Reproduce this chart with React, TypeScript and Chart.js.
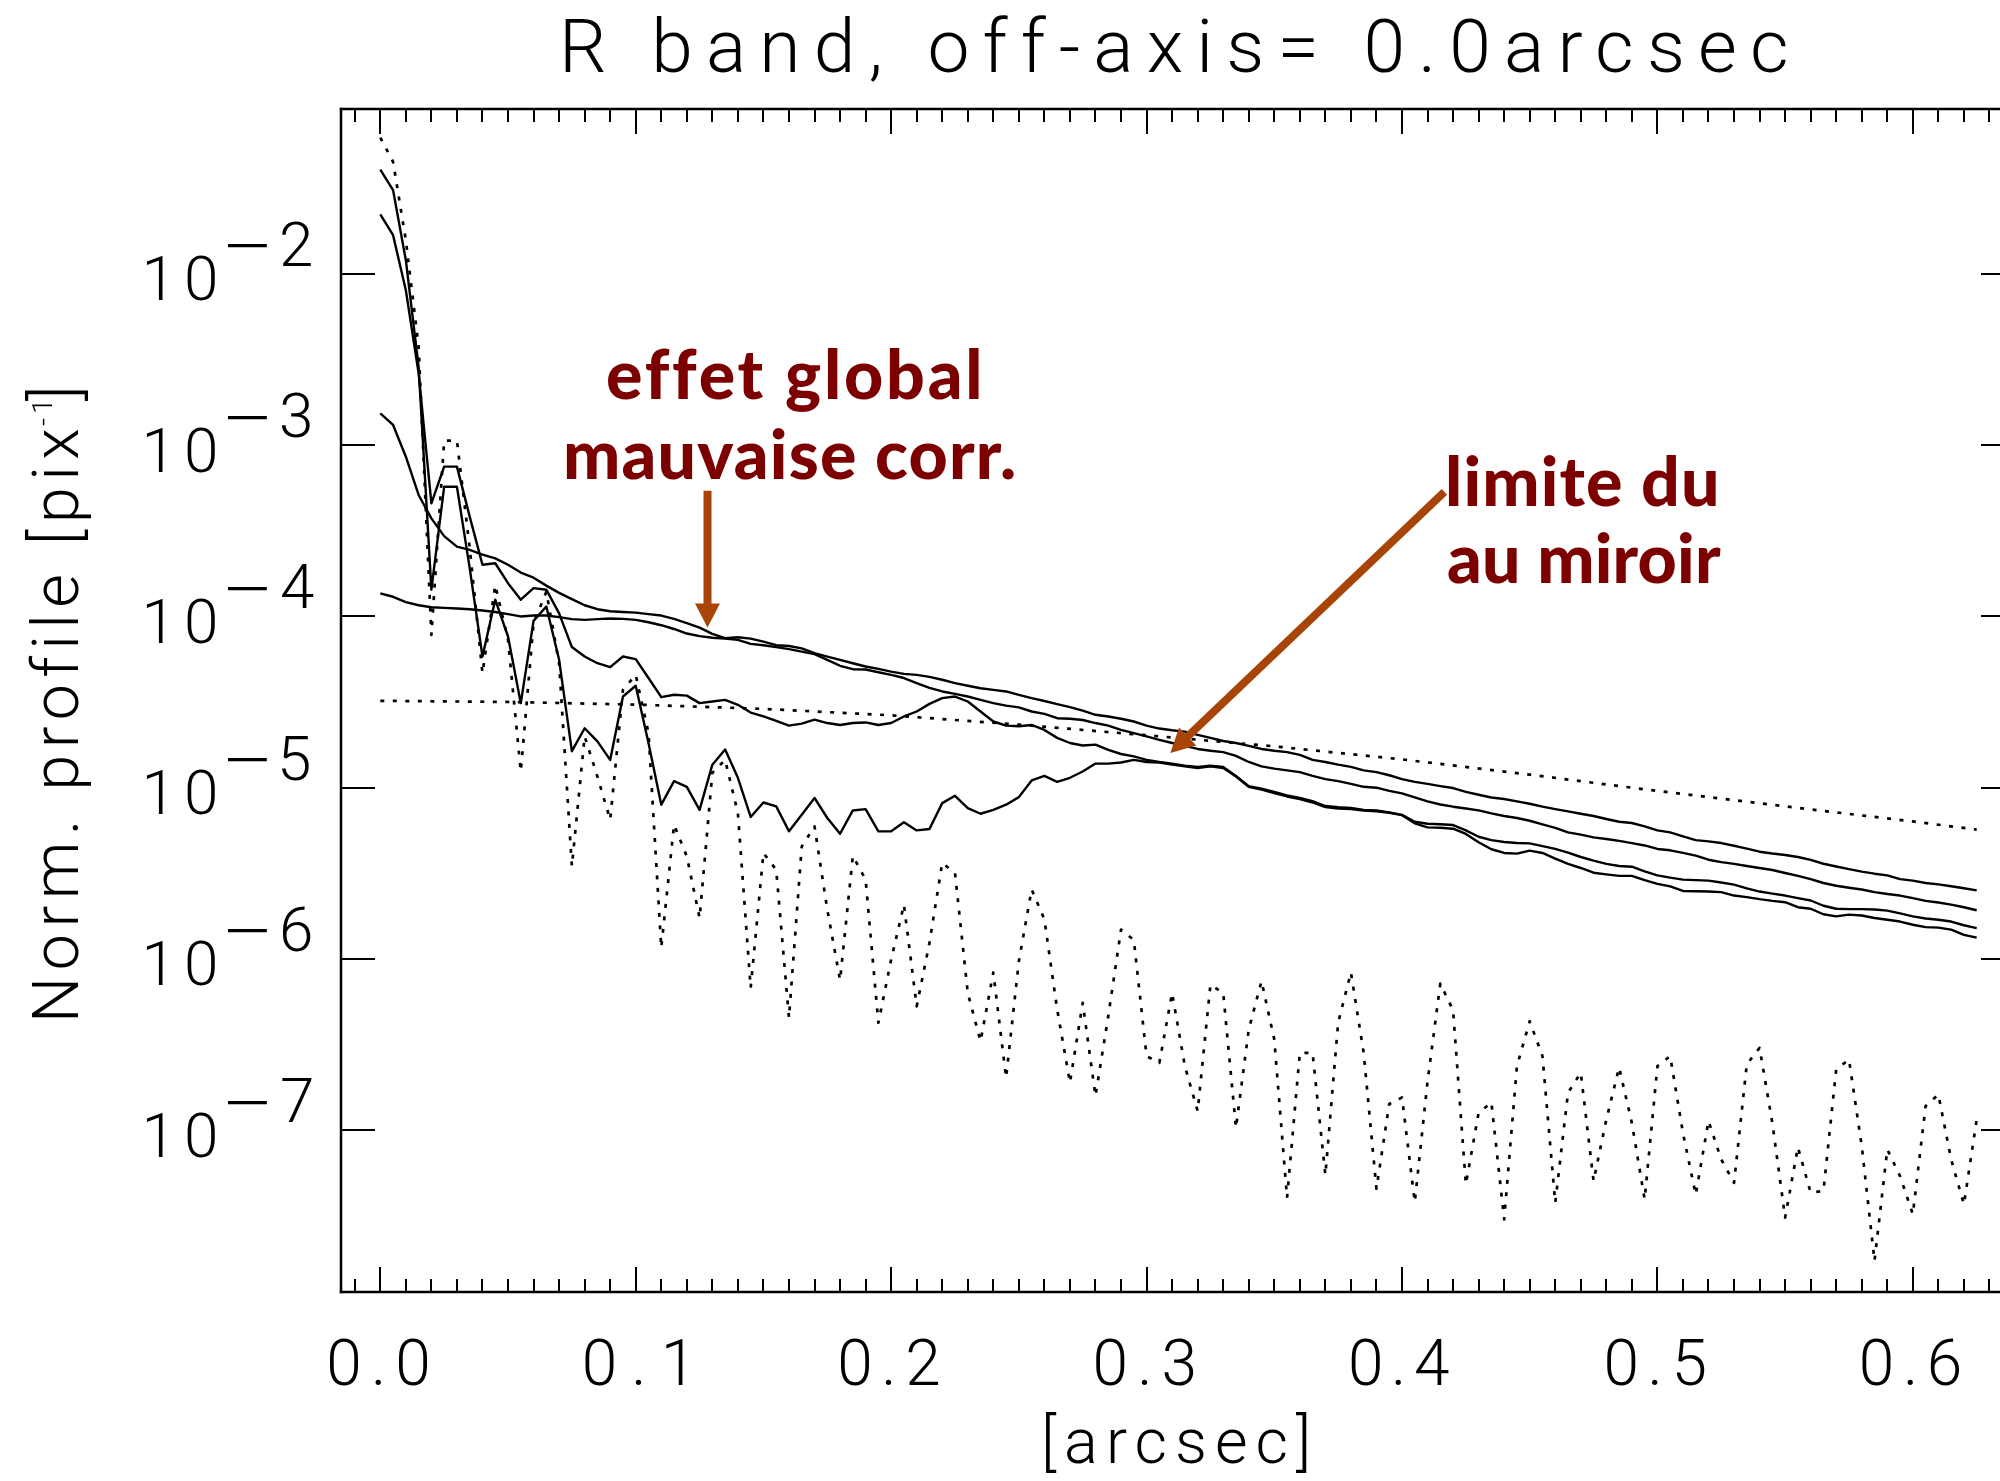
import React, { useEffect, useRef } from "react";
import { Chart, registerables } from "chart.js";

Chart.register(...registerables);

// ---- sample radii [arcsec] ----
const radius = [
  0, 0.005, 0.01, 0.015, 0.02, 0.025, 0.03, 0.035, 0.04, 0.045,
  0.05, 0.055, 0.06, 0.065, 0.07, 0.075, 0.08, 0.085, 0.09, 0.095,
  0.1, 0.105, 0.11, 0.115, 0.12, 0.125, 0.13, 0.135, 0.14, 0.145,
  0.15, 0.155, 0.16, 0.165, 0.17, 0.175, 0.18, 0.185, 0.19, 0.195,
  0.2, 0.205, 0.21, 0.215, 0.22, 0.225, 0.23, 0.235, 0.24, 0.245,
  0.25, 0.255, 0.26, 0.265, 0.27, 0.275, 0.28, 0.285, 0.29, 0.295,
  0.3, 0.305, 0.31, 0.315, 0.32, 0.325, 0.33, 0.335, 0.34, 0.345,
  0.35, 0.355, 0.36, 0.365, 0.37, 0.375, 0.38, 0.385, 0.39, 0.395,
  0.4, 0.405, 0.41, 0.415, 0.42, 0.425, 0.43, 0.435, 0.44, 0.445,
  0.45, 0.455, 0.46, 0.465, 0.47, 0.475, 0.48, 0.485, 0.49, 0.495,
  0.5, 0.505, 0.51, 0.515, 0.52, 0.525, 0.53, 0.535, 0.54, 0.545,
  0.55, 0.555, 0.56, 0.565, 0.57, 0.575, 0.58, 0.585, 0.59, 0.595,
  0.6, 0.605, 0.61, 0.615, 0.62, 0.625,
];

// dotted: diffraction-limited profile
const psfDiffraction = [
  6.24e-2, 4.5e-2, 1.57e-2, 3.75e-3, 7.78e-5, 1.06e-3, 1.06e-3, 2.51e-4, 4.66e-5, 1.52e-4,
  7.28e-5, 1.24e-5, 9.12e-5, 1.39e-4, 5.32e-5, 3.47e-6, 1.99e-5, 1.16e-5, 6.49e-6, 3.72e-5,
  4.55e-5, 2.08e-5, 1.16e-6, 6.07e-6, 3.96e-6, 1.73e-6, 1.22e-5, 1.45e-5, 7.1e-6, 6.76e-7,
  4.15e-6, 3.31e-6, 4.52e-7, 4.53e-6, 5.93e-6, 1.94e-6, 7.5e-7, 3.98e-6, 2.9e-6, 4.23e-7,
  9.89e-7, 2.07e-6, 5.28e-7, 1.24e-6, 3.63e-6, 3.17e-6, 6.31e-7, 3.3e-7, 8.32e-7, 2.02e-7,
  9.68e-7, 2.54e-6, 1.7e-6, 5.06e-7, 1.89e-7, 5.53e-7, 1.58e-7, 4.62e-7, 1.48e-6, 1.29e-6,
  2.7e-7, 2.47e-7, 6.31e-7, 2.36e-7, 1.29e-7, 7.06e-7, 6.31e-7, 1.03e-7, 3.86e-7, 7.4e-7,
  3.38e-7, 4.02e-8, 2.82e-7, 2.82e-7, 5.46e-8, 4.23e-7, 8.32e-7, 2.82e-7, 4.54e-8, 1.42e-7,
  1.55e-7, 3.8e-8, 1.92e-7, 7.16e-7, 5.01e-7, 4.83e-8, 1.26e-7, 1.45e-7, 3.01e-8, 2.36e-7,
  4.32e-7, 2.7e-7, 3.76e-8, 1.65e-7, 2.16e-7, 5.04e-8, 1.15e-7, 2.32e-7, 1.1e-7, 3.94e-8,
  2.36e-7, 2.7e-7, 9.62e-8, 4.19e-8, 1.13e-7, 6.73e-8, 4.92e-8, 2.42e-7, 3.02e-7, 1.1e-7,
  3.08e-8, 7.94e-8, 4.31e-8, 4.41e-8, 2.26e-7, 2.58e-7, 8.07e-8, 1.72e-8, 7.71e-8, 5.38e-8,
  3.22e-8, 1.38e-7, 1.61e-7, 6.73e-8, 3.68e-8, 1.15e-7,
];

// solid: corrected profiles
const psfCorrA = [
  4.06e-2, 3.08e-2, 1.2e-2, 2.86e-3, 1.43e-4, 5.71e-4, 5.71e-4, 1.91e-4, 5.82e-5, 1.25e-4,
  7.62e-5, 3.11e-5, 9.4e-5, 1.14e-4, 5.57e-5, 1.63e-5, 2.22e-5, 1.86e-5, 1.45e-5, 3.4e-5,
  3.93e-5, 1.82e-5, 7.94e-6, 1.09e-5, 1.01e-5, 7.41e-6, 1.36e-5, 1.67e-5, 1.14e-5, 6.73e-6,
  8.18e-6, 7.76e-6, 5.55e-6, 6.93e-6, 8.69e-6, 6.64e-6, 5.37e-6, 7.35e-6, 7.48e-6, 5.55e-6,
  5.55e-6, 6.27e-6, 5.62e-6, 5.73e-6, 8.11e-6, 8.95e-6, 7.59e-6, 7.03e-6, 7.41e-6, 7.94e-6,
  8.79e-6, 1.1e-5, 1.17e-5, 1.08e-5, 1.14e-5, 1.24e-5, 1.38e-5, 1.38e-5, 1.4e-5, 1.45e-5,
  1.41e-5, 1.4e-5, 1.36e-5, 1.33e-5, 1.3e-5, 1.33e-5, 1.3e-5, 1.16e-5, 1.01e-5, 9.72e-6,
  9.29e-6, 8.87e-6, 8.57e-6, 8.18e-6, 7.69e-6, 7.55e-6, 7.48e-6, 7.35e-6, 7.26e-6, 7.13e-6,
  6.9e-6, 6.18e-6, 5.85e-6, 5.82e-6, 5.75e-6, 5.36e-6, 4.79e-6, 4.36e-6, 4.15e-6, 4.11e-6,
  4.28e-6, 4.15e-6, 3.85e-6, 3.58e-6, 3.39e-6, 3.18e-6, 3.11e-6, 3.05e-6, 3.05e-6, 2.88e-6,
  2.74e-6, 2.65e-6, 2.49e-6, 2.48e-6, 2.47e-6, 2.45e-6, 2.34e-6, 2.29e-6, 2.23e-6, 2.18e-6,
  2.14e-6, 2.0e-6, 1.96e-6, 1.82e-6, 1.77e-6, 1.81e-6, 1.79e-6, 1.73e-6, 1.69e-6, 1.65e-6,
  1.58e-6, 1.53e-6, 1.52e-6, 1.48e-6, 1.38e-6, 1.33e-6,
];

const psfCorrB = [
  2.22e-2, 1.68e-2, 8.02e-3, 2.62e-3, 4.57e-4, 7.48e-4, 7.48e-4, 3.82e-4, 2.0e-4, 2.04e-4,
  1.56e-4, 1.25e-4, 1.46e-4, 1.43e-4, 1.04e-4, 6.61e-5, 5.82e-5, 5.32e-5, 5.05e-5, 5.82e-5,
  5.62e-5, 4.36e-5, 3.37e-5, 3.48e-5, 3.44e-5, 3.11e-5, 3.18e-5, 3.25e-5, 3.04e-5, 2.74e-5,
  2.6e-5, 2.45e-5, 2.3e-5, 2.36e-5, 2.49e-5, 2.38e-5, 2.32e-5, 2.38e-5, 2.4e-5, 2.32e-5,
  2.38e-5, 2.6e-5, 2.78e-5, 3.08e-5, 3.33e-5, 3.4e-5, 3.18e-5, 2.78e-5, 2.43e-5, 2.3e-5,
  2.28e-5, 2.32e-5, 2.17e-5, 1.95e-5, 1.82e-5, 1.76e-5, 1.78e-5, 1.66e-5, 1.57e-5, 1.52e-5,
  1.45e-5, 1.41e-5, 1.38e-5, 1.34e-5, 1.32e-5, 1.34e-5, 1.32e-5, 1.17e-5, 1.02e-5, 9.86e-6,
  9.42e-6, 9.0e-6, 8.71e-6, 8.32e-6, 7.8e-6, 7.67e-6, 7.59e-6, 7.41e-6, 7.35e-6, 7.16e-6,
  6.93e-6, 6.31e-6, 6.15e-6, 6.1e-6, 6.04e-6, 5.62e-6, 5.16e-6, 4.93e-6, 4.81e-6, 4.74e-6,
  4.72e-6, 4.55e-6, 4.38e-6, 4.17e-6, 3.93e-6, 3.74e-6, 3.58e-6, 3.48e-6, 3.45e-6, 3.24e-6,
  3.07e-6, 2.98e-6, 2.9e-6, 2.88e-6, 2.86e-6, 2.79e-6, 2.71e-6, 2.58e-6, 2.47e-6, 2.4e-6,
  2.34e-6, 2.26e-6, 2.19e-6, 2.04e-6, 1.96e-6, 1.95e-6, 1.95e-6, 1.94e-6, 1.91e-6, 1.84e-6,
  1.77e-6, 1.72e-6, 1.69e-6, 1.65e-6, 1.57e-6, 1.51e-6,
];

const psfCorrC = [
  1.53e-3, 1.31e-3, 8.55e-4, 5.11e-4, 3.73e-4, 2.94e-4, 2.55e-4, 2.44e-4, 2.29e-4, 2.18e-4,
  2.0e-4, 1.8e-4, 1.68e-4, 1.51e-4, 1.37e-4, 1.26e-4, 1.16e-4, 1.1e-4, 1.07e-4, 1.06e-4,
  1.05e-4, 1.03e-4, 1.01e-4, 9.66e-5, 9.12e-5, 8.59e-5, 7.89e-5, 7.45e-5, 7.55e-5, 7.41e-5,
  7.11e-5, 6.78e-5, 6.71e-5, 6.49e-5, 6.1e-5, 5.82e-5, 5.57e-5, 5.32e-5, 5.09e-5, 4.93e-5,
  4.75e-5, 4.61e-5, 4.55e-5, 4.43e-5, 4.26e-5, 4.07e-5, 3.93e-5, 3.8e-5, 3.72e-5, 3.64e-5,
  3.48e-5, 3.33e-5, 3.2e-5, 3.07e-5, 2.95e-5, 2.81e-5, 2.66e-5, 2.6e-5, 2.52e-5, 2.43e-5,
  2.3e-5, 2.21e-5, 2.16e-5, 2.12e-5, 2.03e-5, 1.95e-5, 1.87e-5, 1.82e-5, 1.75e-5, 1.68e-5,
  1.64e-5, 1.61e-5, 1.55e-5, 1.45e-5, 1.41e-5, 1.36e-5, 1.32e-5, 1.26e-5, 1.23e-5, 1.18e-5,
  1.12e-5, 1.08e-5, 1.05e-5, 1.02e-5, 9.93e-6, 9.44e-6, 9.08e-6, 8.75e-6, 8.57e-6, 8.3e-6,
  8.04e-6, 7.73e-6, 7.48e-6, 7.26e-6, 7.03e-6, 6.82e-6, 6.55e-6, 6.31e-6, 6.21e-6, 5.93e-6,
  5.62e-6, 5.47e-6, 5.19e-6, 4.93e-6, 4.85e-6, 4.74e-6, 4.57e-6, 4.4e-6, 4.22e-6, 4.12e-6,
  4.04e-6, 3.93e-6, 3.78e-6, 3.59e-6, 3.46e-6, 3.34e-6, 3.23e-6, 3.14e-6, 3.07e-6, 2.92e-6,
  2.86e-6, 2.77e-6, 2.72e-6, 2.65e-6, 2.58e-6, 2.51e-6,
];

const psfCorrD = [
  1.36e-4, 1.3e-4, 1.21e-4, 1.16e-4, 1.13e-4, 1.12e-4, 1.11e-4, 1.1e-4, 1.08e-4, 1.06e-4,
  1.03e-4, 9.98e-5, 1.01e-4, 1.01e-4, 9.89e-5, 9.62e-5, 9.53e-5, 9.62e-5, 9.7e-5, 9.66e-5,
  9.53e-5, 9.23e-5, 8.87e-5, 8.43e-5, 7.93e-5, 7.66e-5, 7.5e-5, 7.41e-5, 7.28e-5, 6.9e-5,
  6.78e-5, 6.61e-5, 6.43e-5, 6.22e-5, 6.01e-5, 5.57e-5, 5.14e-5, 4.91e-5, 4.89e-5, 4.71e-5,
  4.55e-5, 4.36e-5, 4.07e-5, 3.82e-5, 3.64e-5, 3.52e-5, 3.4e-5, 3.25e-5, 3.11e-5, 3.01e-5,
  2.94e-5, 2.78e-5, 2.69e-5, 2.54e-5, 2.52e-5, 2.48e-5, 2.38e-5, 2.3e-5, 2.17e-5, 2.08e-5,
  1.99e-5, 1.9e-5, 1.82e-5, 1.75e-5, 1.68e-5, 1.64e-5, 1.61e-5, 1.53e-5, 1.41e-5, 1.33e-5,
  1.29e-5, 1.26e-5, 1.23e-5, 1.17e-5, 1.12e-5, 1.09e-5, 1.05e-5, 1.01e-5, 9.98e-6, 9.57e-6,
  9.25e-6, 8.75e-6, 8.3e-6, 7.96e-6, 7.73e-6, 7.55e-6, 7.35e-6, 7.06e-6, 6.82e-6, 6.64e-6,
  6.4e-6, 6.1e-6, 5.81e-6, 5.47e-6, 5.31e-6, 5.12e-6, 5.01e-6, 4.88e-6, 4.74e-6, 4.59e-6,
  4.38e-6, 4.3e-6, 4.15e-6, 4.0e-6, 3.79e-6, 3.67e-6, 3.58e-6, 3.48e-6, 3.39e-6, 3.3e-6,
  3.17e-6, 3.05e-6, 2.92e-6, 2.77e-6, 2.67e-6, 2.6e-6, 2.54e-6, 2.45e-6, 2.39e-6, 2.34e-6,
  2.26e-6, 2.18e-6, 2.13e-6, 2.07e-6, 2.0e-6, 1.92e-6,
];

// dotted: mirror-limited halo
const mirrorRadius = [0, 0.05, 0.1, 0.15, 0.2, 0.25, 0.3, 0.35, 0.4, 0.45, 0.5, 0.55, 0.6, 0.625];
const mirrorLimit = [
  3.21e-5, 3.16e-5, 3.05e-5, 2.88e-5, 2.64e-5, 2.33e-5, 2.02e-5, 1.74e-5, 1.46e-5, 1.19e-5,
  9.55e-6, 7.76e-6, 6.34e-6, 5.68e-6,
];

// ---- axes / labels ----
const xTickValues = [0, 0.1, 0.2, 0.3, 0.4, 0.5, 0.6];
const xTickLabels = ["0.0", "0.1", "0.2", "0.3", "0.4", "0.5", "0.6"];
const xMinorStep = 0.01;
const yTickValues = [1e-2, 1e-3, 1e-4, 1e-5, 1e-6, 1e-7];
const yTickExponents = ["2", "3", "4", "5", "6", "7"];

const titleText = "R band, off-axis= 0.0arcsec";
const xTitle = "[arcsec]";
const yTitleMain = "Norm. profile [pix";
const yTitleSup = "-1";
const yTitleEnd = "]";
const noteGlobal = ["effet global", "mauvaise corr."];
const noteMirror = ["limite du", "au miroir"];

// arrows: [x, y] in data units, from -> to
const arrowGlobal = { from: [0.1281, 5.41e-4], to: [0.1281, 8.61e-5] };
const arrowMirror = { from: [0.4166, 5.32e-4], to: [0.3093, 1.59e-5] };

const THIN = "300";
const FONT = "Roboto, 'DejaVu Sans', sans-serif";
const NOTE_FONT = "900 68px Lato, 'DejaVu Sans', sans-serif";
const NOTE_COLOR = "#7c0000";
const ARROW_COLOR = "#a84408";
const TICK_COLOR = "#000000";

function fitText(ctx: CanvasRenderingContext2D, text: string, inkLeft: number, inkRight: number, baseline: number) {
  (ctx as any).letterSpacing = "0px";
  ctx.textAlign = "left";
  ctx.textBaseline = "alphabetic";
  const m = ctx.measureText(text);
  const ink = m.actualBoundingBoxLeft + m.actualBoundingBoxRight;
  const n = Array.from(text).length;
  const sp = n > 1 ? (inkRight - inkLeft - ink) / (n - 1) : 0;
  (ctx as any).letterSpacing = `${sp}px`;
  ctx.fillText(text, inkLeft + m.actualBoundingBoxLeft, baseline);
  (ctx as any).letterSpacing = "0px";
}

function drawArrow(ctx: CanvasRenderingContext2D, x1: number, y1: number, x2: number, y2: number) {
  const a = Math.atan2(y2 - y1, x2 - x1);
  const headLen = 24;
  const half = 12.5;
  const bx = x2 - headLen * Math.cos(a);
  const by = y2 - headLen * Math.sin(a);
  ctx.strokeStyle = ARROW_COLOR;
  ctx.fillStyle = ARROW_COLOR;
  ctx.lineWidth = 8;
  ctx.lineCap = "butt";
  ctx.setLineDash([]);
  ctx.beginPath();
  ctx.moveTo(x1, y1);
  ctx.lineTo(bx + Math.cos(a), by + Math.sin(a));
  ctx.stroke();
  ctx.beginPath();
  ctx.moveTo(x2, y2);
  ctx.lineTo(bx + half * Math.sin(a), by - half * Math.cos(a));
  ctx.lineTo(bx - half * Math.sin(a), by + half * Math.cos(a));
  ctx.closePath();
  ctx.fill();
}

const framePlugin = {
  id: "idlFrame",
  afterDraw(chart: any) {
    const ctx: CanvasRenderingContext2D = chart.ctx;
    const { left, right, top, bottom } = chart.chartArea;
    const xs = chart.scales.x;
    const ys = chart.scales.y;
    ctx.save();
    ctx.setLineDash([]);
    ctx.fillStyle = "#000";

    // box
    const bw = 2.5;
    ctx.fillRect(left - bw / 2, top - bw / 2, right - left + bw, bw);
    ctx.fillRect(left - bw / 2, bottom - bw / 2, right - left + bw, bw);
    ctx.fillRect(left - bw / 2, top - bw / 2, bw, bottom - top + bw);
    ctx.fillRect(right - bw / 2, top - bw / 2, bw, bottom - top + bw);

    // inward ticks: x majors each 0.1, minors each 0.01; y at decades
    ctx.fillStyle = TICK_COLOR;
    const tw = 2;
    for (let k = Math.ceil(xs.min / xMinorStep); k * xMinorStep < xs.max - 1e-9; k++) {
      const px = Math.round(xs.getPixelForValue(k * xMinorStep));
      const len = Math.abs(k % 10) === 0 ? 25 : 13;
      ctx.fillRect(px - tw / 2, bottom - len, tw, len);
      ctx.fillRect(px - tw / 2, top, tw, len);
    }
    for (const v of yTickValues) {
      const py = Math.round(ys.getPixelForValue(v));
      ctx.fillRect(left, py - tw / 2, 34, tw);
      ctx.fillRect(right - 34, py - tw / 2, 34, tw);
    }
    ctx.fillStyle = "#000";

    // x tick labels
    ctx.font = `${THIN} 64px ${FONT}`;
    xTickValues.forEach((v, i) => {
      const px = xs.getPixelForValue(v) - 2;
      fitText(ctx, xTickLabels[i], px - 49, px + 49, 1385);
    });

    // y tick labels 10^-n
    yTickValues.forEach((v, i) => {
      const py = ys.getPixelForValue(v);
      ctx.font = `${THIN} 62px ${FONT}`;
      fitText(ctx, "10", 146.5, 215, py + 26.5);
      const mm = ctx.measureText("\u2212");
      const mw = mm.actualBoundingBoxLeft + mm.actualBoundingBoxRight;
      const sx = 40 / Math.max(mw, 1);
      const mid = (mm.actualBoundingBoxAscent - mm.actualBoundingBoxDescent) / 2;
      ctx.save();
      ctx.translate(228, py - 27.5 + mid);
      ctx.scale(sx, 1);
      ctx.textAlign = "left";
      ctx.fillText("\u2212", mm.actualBoundingBoxLeft, 0);
      ctx.restore();
      fitText(ctx, yTickExponents[i], 282, 313, py - 8);
    });

    // title
    ctx.font = `${THIN} 75px ${FONT}`;
    fitText(ctx, titleText, 565, 1786, 72);

    // x title
    ctx.font = `${THIN} 63px ${FONT}`;
    fitText(ctx, xTitle, 1046, 1307, 1463);

    // y title (rotated)
    ctx.save();
    ctx.translate(78, 1018);
    ctx.rotate(-Math.PI / 2);
    ctx.font = `${THIN} 65px ${FONT}`;
    fitText(ctx, yTitleMain, 0, 588, 0);
    ctx.font = `${THIN} 28px ${FONT}`;
    fitText(ctx, yTitleSup, 592, 614, -26);
    ctx.font = `${THIN} 65px ${FONT}`;
    fitText(ctx, yTitleEnd, 617, 631, 0);
    ctx.restore();

    // annotations
    ctx.fillStyle = NOTE_COLOR;
    ctx.font = NOTE_FONT;
    fitText(ctx, noteGlobal[0], 608, 977, 399);
    fitText(ctx, noteGlobal[1], 566, 1014, 479);
    fitText(ctx, noteMirror[0], 1448, 1716, 506);
    fitText(ctx, noteMirror[1], 1448, 1721, 583);

    for (const ar of [arrowGlobal, arrowMirror]) {
      drawArrow(
        ctx,
        xs.getPixelForValue(ar.from[0]),
        ys.getPixelForValue(ar.from[1]),
        xs.getPixelForValue(ar.to[0]),
        ys.getPixelForValue(ar.to[1])
      );
    }
    ctx.restore();
  },
};

function series(xv: number[], yv: number[]) {
  return xv.map((x, i) => ({ x, y: yv[i] }));
}

export default function App() {
  const ref = useRef<HTMLCanvasElement | null>(null);
  useEffect(() => {
    if (!ref.current) return;
    const solid = { borderColor: "#000", borderWidth: 2.4, pointRadius: 0, borderJoinStyle: "round" as const, tension: 0 };
    const dotted = { ...solid, borderWidth: 2.7, borderDash: [4, 8.5] };
    const chart = new Chart(ref.current, {
      type: "line",
      data: {
        datasets: [
          { label: "diffraction", data: series(radius, psfDiffraction), ...dotted },
          { label: "mirror", data: series(mirrorRadius, mirrorLimit), ...dotted },
          { label: "A", data: series(radius, psfCorrA), ...solid },
          { label: "B", data: series(radius, psfCorrB), ...solid },
          { label: "C", data: series(radius, psfCorrC), ...solid },
          { label: "D", data: series(radius, psfCorrD), ...solid },
        ],
      },
      options: {
        animation: false,
        responsive: false,
        devicePixelRatio: 1,
        layout: { padding: { left: 341, top: 109, right: 25, bottom: 189 } },
        plugins: { legend: { display: false }, tooltip: { enabled: false }, title: { display: false } },
        scales: {
          x: { type: "linear", min: -0.01539, max: 0.64, display: false },
          y: { type: "logarithmic", min: 1.133e-8, max: 0.09168, display: false },
        },
      },
      plugins: [framePlugin],
    });
    return () => chart.destroy();
  }, []);
  return (
    <div style={{ position: "fixed", left: 0, top: 0, width: 2000, height: 1481, overflow: "hidden", background: "#fff" }}>
      <canvas ref={ref} width={2040} height={1481} style={{ display: "block", width: 2040, height: 1481 }} />
    </div>
  );
}
